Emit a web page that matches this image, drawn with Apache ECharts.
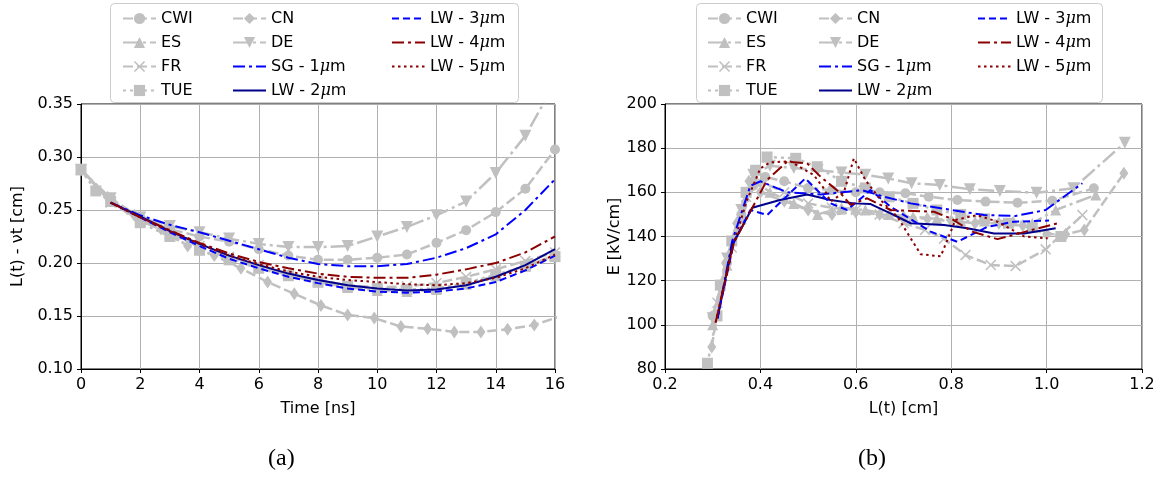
<!DOCTYPE html>
<html><head><meta charset="utf-8">
<script src="https://cdn.jsdelivr.net/npm/echarts@6/dist/echarts.min.js"></script>
<style>html,body{margin:0;padding:0;background:#fff}#c{width:1165px;height:481px}</style>
</head><body><div id="c"></div>
<script>
// ---------- (a) L(t) - vt vs time ----------
const tGray = [0,1,2,3,4,5,6,7,8,9,10,11,12,13,14,15,16];
const cwiA = [0.288,0.259,0.242,0.232,0.225,0.220,0.213,0.207,0.203,0.203,0.205,0.208,0.219,0.231,0.248,0.270,0.307];
const esA  = [0.288,0.258,0.240,0.228,0.215,0.205,0.196,0.189,0.182,0.177,0.174,0.173,0.175,0.180,0.188,0.197,0.207];
const frA  = [0.288,0.257,0.240,0.229,0.216,0.206,0.198,0.190,0.184,0.179,0.177,0.178,0.181,0.187,0.194,0.202,0.210];
const deA  = [0.288,0.261,0.243,0.235,0.229,0.223,0.218,0.215,0.215,0.216,0.225,0.234,0.245,0.258,0.285,0.320,0.370];
const tTUE = [0,0.5,1,2,3,4,5,6,7,8,9,10,11,12,13,14,15,16];
const tueA = [0.288,0.268,0.258,0.238,0.225,0.212,0.203,0.195,0.188,0.182,0.178,0.176,0.175,0.176,0.181,0.189,0.197,0.206];
const tCN  = [0,0.9,1.8,2.7,3.6,4.5,5.4,6.3,7.2,8.1,9.0,9.9,10.8,11.7,12.6,13.5,14.4,15.3,16.2];
const cnA  = [0.288,0.262,0.245,0.232,0.216,0.207,0.195,0.182,0.171,0.160,0.151,0.148,0.140,0.138,0.135,0.135,0.1375,0.1415,0.150];
const tSim = [1,2,3,4,5,6,7,8,9,10,11,12,13,14,15,16];
const sg1A = [0.257,0.245,0.236,0.229,0.221,0.213,0.205,0.199,0.197,0.197,0.199,0.205,0.214,0.227,0.250,0.279];
const lw2A = [0.257,0.244,0.230,0.218,0.207,0.198,0.190,0.184,0.179,0.176,0.174,0.175,0.179,0.187,0.198,0.213];
const lw3A = [0.257,0.243,0.229,0.216,0.204,0.195,0.187,0.181,0.176,0.173,0.172,0.173,0.176,0.182,0.193,0.207];
const lw4A = [0.257,0.243,0.231,0.219,0.209,0.201,0.195,0.190,0.187,0.186,0.186,0.189,0.194,0.200,0.210,0.225];
const lw5A = [0.257,0.243,0.230,0.218,0.207,0.199,0.192,0.187,0.184,0.182,0.180,0.179,0.181,0.186,0.195,0.208];

// ---------- (b) E vs L(t) ----------
const cwiL = [0.30,0.33,0.36,0.385,0.41,0.45,0.50,0.55,0.60,0.65,0.704,0.753,0.813,0.872,0.939,1.012,1.099];
const cwiE = [104,128,150,163,167,165,162,161,160,160,159.6,158,156.5,155.8,155.3,156.2,161.8];
const esL  = [0.30,0.33,0.36,0.39,0.42,0.47,0.52,0.57,0.62,0.67,0.72,0.77,0.82,0.87,0.93,0.97,1.019,1.103];
const esE  = [100,127,148,165,160,155,150,153,152,150,149,148,147,147,147,146,152,158.8];
const frL  = [0.31,0.34,0.37,0.40,0.45,0.50,0.55,0.60,0.65,0.70,0.745,0.785,0.83,0.883,0.935,0.998,1.075];
const frE  = [110,135,158,165,160,155,153,152,150,146,143,139,131.6,127.1,126.6,134.2,149.7];
const tueL = [0.289,0.309,0.316,0.34,0.37,0.39,0.414,0.474,0.519,0.57,0.62,0.67,0.72,0.77,0.82,0.87,0.92,0.97,1.03];
const tueE = [82.6,104,118,138,160,170,176,175.4,171.6,165,162,158,155,152,150,148,146,144,140];
const cnL  = [0.298,0.327,0.35,0.376,0.40,0.45,0.50,0.55,0.60,0.65,0.70,0.75,0.80,0.85,0.90,0.95,1.00,1.04,1.079,1.162];
const cnE  = [90,128,146,165,160,156,152,150,151,150,149,148,147,146,146,145,141,141,143,168.6];
const deL  = [0.30,0.33,0.36,0.385,0.42,0.47,0.52,0.57,0.62,0.668,0.717,0.776,0.839,0.902,0.979,1.056,1.164];
const deE  = [103,130,152,168,172,171,170,169,168,166.3,164.1,163.3,161.4,160.6,159.8,161.8,182.5];
const sg1L = [0.31,0.341,0.379,0.40,0.456,0.526,0.582,0.613,0.66,0.715,0.778,0.869,0.935,0.998,1.075];
const sg1E = [103,138,163,165,160,159,160.3,161,158,155,152.8,149.7,149.3,152,164.1];
const lw2L = [0.31,0.341,0.383,0.441,0.498,0.547,0.596,0.631,0.673,0.715,0.785,0.834,0.890,0.953,1.019];
const lw2E = [103,136,153,156.5,159,156.5,155,154.7,150.5,146,145.2,143.7,141.4,141.4,143.7];
const lw3L = [0.31,0.345,0.379,0.414,0.494,0.547,0.582,0.631,0.673,0.757,0.813,0.876,0.932,1.005];
const lw3E = [103,138,152,149.7,166.3,155,152,161,153.5,142.2,137.6,144.4,146.7,147.2];
const lw4L = [0.306,0.344,0.383,0.414,0.456,0.498,0.526,0.568,0.589,0.624,0.673,0.764,0.799,0.844,0.897,0.956,1.023];
const lw4E = [101,137,153,165.6,173.9,173.1,167.1,159.6,154.3,157.3,152,151.2,148.2,142.2,138.8,142.2,146];
const lw5L = [0.306,0.344,0.372,0.400,0.421,0.463,0.512,0.533,0.547,0.575,0.596,0.620,0.652,0.687,0.715,0.736,0.778,0.809,0.854,0.897,0.953,1.002];
const lw5E = [101,137,156.5,170.9,173.6,174,167.8,161.8,155.8,160,175.4,165.6,156.5,149,139.2,132,131,147.5,149.7,146.7,140,139.2];

const leftXTicks = [0,2,4,6,8,10,12,14,16];
const leftYTicks = [0.10,0.15,0.20,0.25,0.30,0.35];
const rightXTicks = [0.2,0.4,0.6,0.8,1.0,1.2];
const rightYTicks = [80,100,120,140,160,180,200];

const names = ['CWI','ES','FR','TUE','CN','DE','SG - 1μm','LW - 2μm','LW - 3μm','LW - 4μm','LW - 5μm'];

const zip = (xs, ys) => xs.map((x, i) => [x, ys[i]]);
const GRAY = '#c0c0c0';
const xSym = 'path://M1,0 L5,4 L9,0 L10,1 L6,5 L10,9 L9,10 L5,6 L1,10 L0,9 L4,5 L0,1 Z';
const triDown = 'path://M0,0 L10,0 L5,9 Z';
const styles = {
  'CWI': {c: GRAY, t: [10,4], sym: 'circle', size: 10, w: 2.5},
  'ES':  {c: GRAY, t: [16,4,3,4], sym: 'triangle', size: 11, w: 2.5},
  'FR':  {c: GRAY, t: [10,4], sym: xSym, size: 11, w: 2.5},
  'TUE': {c: GRAY, t: [3,4], sym: 'rect', size: 11, w: 2.5},
  'CN':  {c: GRAY, t: [10,4], sym: 'diamond', size: [9,13], w: 2.5},
  'DE':  {c: GRAY, t: [16,4,3,4], sym: triDown, size: 12, w: 2.5},
  'SG - 1μm': {c: '#0000ff', t: [12,4,3,4], sym: 'none', w: 2},
  'LW - 2μm': {c: '#00008b', t: 'solid', sym: 'none', w: 2},
  'LW - 3μm': {c: '#0000ff', t: [7,4], sym: 'none', w: 2},
  'LW - 4μm': {c: '#8b0000', t: [12,4,3,4], sym: 'none', w: 2},
  'LW - 5μm': {c: '#8b0000', t: [2.5,3.5], sym: 'none', w: 2}
};
const leftData = {
  'CWI': zip(tGray, cwiA), 'ES': zip(tGray, esA), 'FR': zip(tGray, frA), 'TUE': zip(tTUE, tueA),
  'CN': zip(tCN, cnA), 'DE': zip(tGray, deA), 'SG - 1μm': zip(tSim, sg1A), 'LW - 2μm': zip(tSim, lw2A),
  'LW - 3μm': zip(tSim, lw3A), 'LW - 4μm': zip(tSim, lw4A), 'LW - 5μm': zip(tSim, lw5A)
};
const rightData = {
  'CWI': zip(cwiL, cwiE), 'ES': zip(esL, esE), 'FR': zip(frL, frE), 'TUE': zip(tueL, tueE),
  'CN': zip(cnL, cnE), 'DE': zip(deL, deE), 'SG - 1μm': zip(sg1L, sg1E), 'LW - 2μm': zip(lw2L, lw2E),
  'LW - 3μm': zip(lw3L, lw3E), 'LW - 4μm': zip(lw4L, lw4E), 'LW - 5μm': zip(lw5L, lw5E)
};

function mkSeries(name, data, idx) {
  const s = styles[name];
  return {
    name, type: 'line', xAxisIndex: idx, yAxisIndex: idx, data,
    symbol: s.sym, symbolSize: s.size || 0, showSymbol: s.sym !== 'none',
    z: s.c === GRAY ? 2 : 3,
    lineStyle: {color: s.c, width: s.w, type: s.t, cap: 'butt'},
    itemStyle: {color: s.c, borderWidth: 0},
    emphasis: {disabled: true}, clip: true
  };
}
const series = [];
names.forEach(n => series.push(mkSeries(n, leftData[n], 0)));
names.forEach(n => series.push(mkSeries(n, rightData[n], 1)));

const FONT = 'DejaVu Sans';
function legendFmt(n) {
  if (n.indexOf('μ') < 0) return '{n|' + n + '}';
  const p = n.split('μ');
  return '{n|' + p[0] + '}{i|μ}{n|' + p[1] + '}';
}
function legendItem(n) {
  if (styles[n].sym === 'none') return {name: n, itemStyle: {opacity: 0, color: 'rgba(0,0,0,0)'}};
  return {name: n};
}
function mkLegend(left, data) {
  return {
    orient: 'vertical', left, top: 5.5, itemWidth: 33, itemHeight: 14, itemGap: 8, z: 10,
    data: data.map(legendItem), selectedMode: false, formatter: legendFmt,
    textStyle: {fontFamily: FONT, fontSize: 16, color: '#000',
      rich: {n: {fontFamily: FONT, fontSize: 16, color: '#000'},
             i: {fontFamily: 'DejaVu Serif', fontStyle: 'italic', fontSize: 16, color: '#000'}}}
  };
}
const col1 = names.slice(0,4), col2 = names.slice(4,8), col3 = names.slice(8);

function xAxis(idx, min, max, interval, dec, name) {
  return {
    type: 'value', gridIndex: idx, min, max, interval,
    name, nameLocation: 'middle', nameGap: 32,
    nameTextStyle: {fontFamily: FONT, fontSize: 16, color: '#000'},
    axisLine: {onZero: false, lineStyle: {color: '#000', width: 1}},
    axisTick: {show: true, length: 4, lineStyle: {color: '#000'}},
    axisLabel: {fontFamily: FONT, fontSize: 16, color: '#000', margin: 8, formatter: v => v.toFixed(dec)},
    splitLine: {show: true, lineStyle: {color: '#b0b0b0', width: 1}}
  };
}
function yAxis(idx, min, max, interval, dec, name, gap) {
  return {
    type: 'value', gridIndex: idx, min, max, interval,
    name, nameLocation: 'middle', nameGap: gap, nameRotate: 90,
    nameTextStyle: {fontFamily: FONT, fontSize: 16, color: '#000'},
    axisLine: {onZero: false, lineStyle: {color: '#000', width: 1}},
    axisTick: {show: true, length: 4, lineStyle: {color: '#000'}},
    axisLabel: {fontFamily: FONT, fontSize: 16, color: '#000', margin: 8, formatter: v => v.toFixed(dec)},
    splitLine: {show: true, lineStyle: {color: '#b0b0b0', width: 1}}
  };
}

const chart = echarts.init(document.getElementById('c'), null, {renderer: 'canvas'});
chart.setOption({
  animation: false,
  backgroundColor: '#fff',
  grid: [
    {left: 81, top: 104, width: 474, height: 265, show: true, borderColor: '#000', borderWidth: 1, backgroundColor: 'transparent'},
    {left: 665, top: 104, width: 477, height: 265, show: true, borderColor: '#000', borderWidth: 1, backgroundColor: 'transparent'}
  ],
  xAxis: [
    xAxis(0, leftXTicks[0], leftXTicks[leftXTicks.length-1], 2, 0, 'Time [ns]'),
    xAxis(1, rightXTicks[0], rightXTicks[rightXTicks.length-1], 0.2, 1, 'L(t) [cm]')
  ],
  yAxis: [
    yAxis(0, leftYTicks[0], leftYTicks[leftYTicks.length-1], 0.05, 2, 'L(t) - νt [cm]', 55),
    yAxis(1, rightYTicks[0], rightYTicks[rightYTicks.length-1], 20, 0, 'E [kV/cm]', 37)
  ],
  legend: [
    mkLegend(117, col1), mkLegend(227, col2), mkLegend(386, col3),
    mkLegend(702, col1), mkLegend(813, col2), mkLegend(972, col3)
  ],
  graphic: [
    {type: 'rect', left: 110, top: 3, shape: {width: 408, height: 99, r: 4}, z: 0, silent: true,
     style: {fill: '#fff', stroke: '#cccccc', lineWidth: 1}},
    {type: 'rect', left: 696, top: 3, shape: {width: 406, height: 99, r: 4}, z: 0, silent: true,
     style: {fill: '#fff', stroke: '#cccccc', lineWidth: 1}},
    {type: 'text', left: 268, top: 447, style: {text: '(a)', font: '24px "Liberation Serif"', fill: '#000'}},
    {type: 'text', left: 858, top: 447, style: {text: '(b)', font: '24px "Liberation Serif"', fill: '#000'}}
  ],
  series
});
</script></body></html>
